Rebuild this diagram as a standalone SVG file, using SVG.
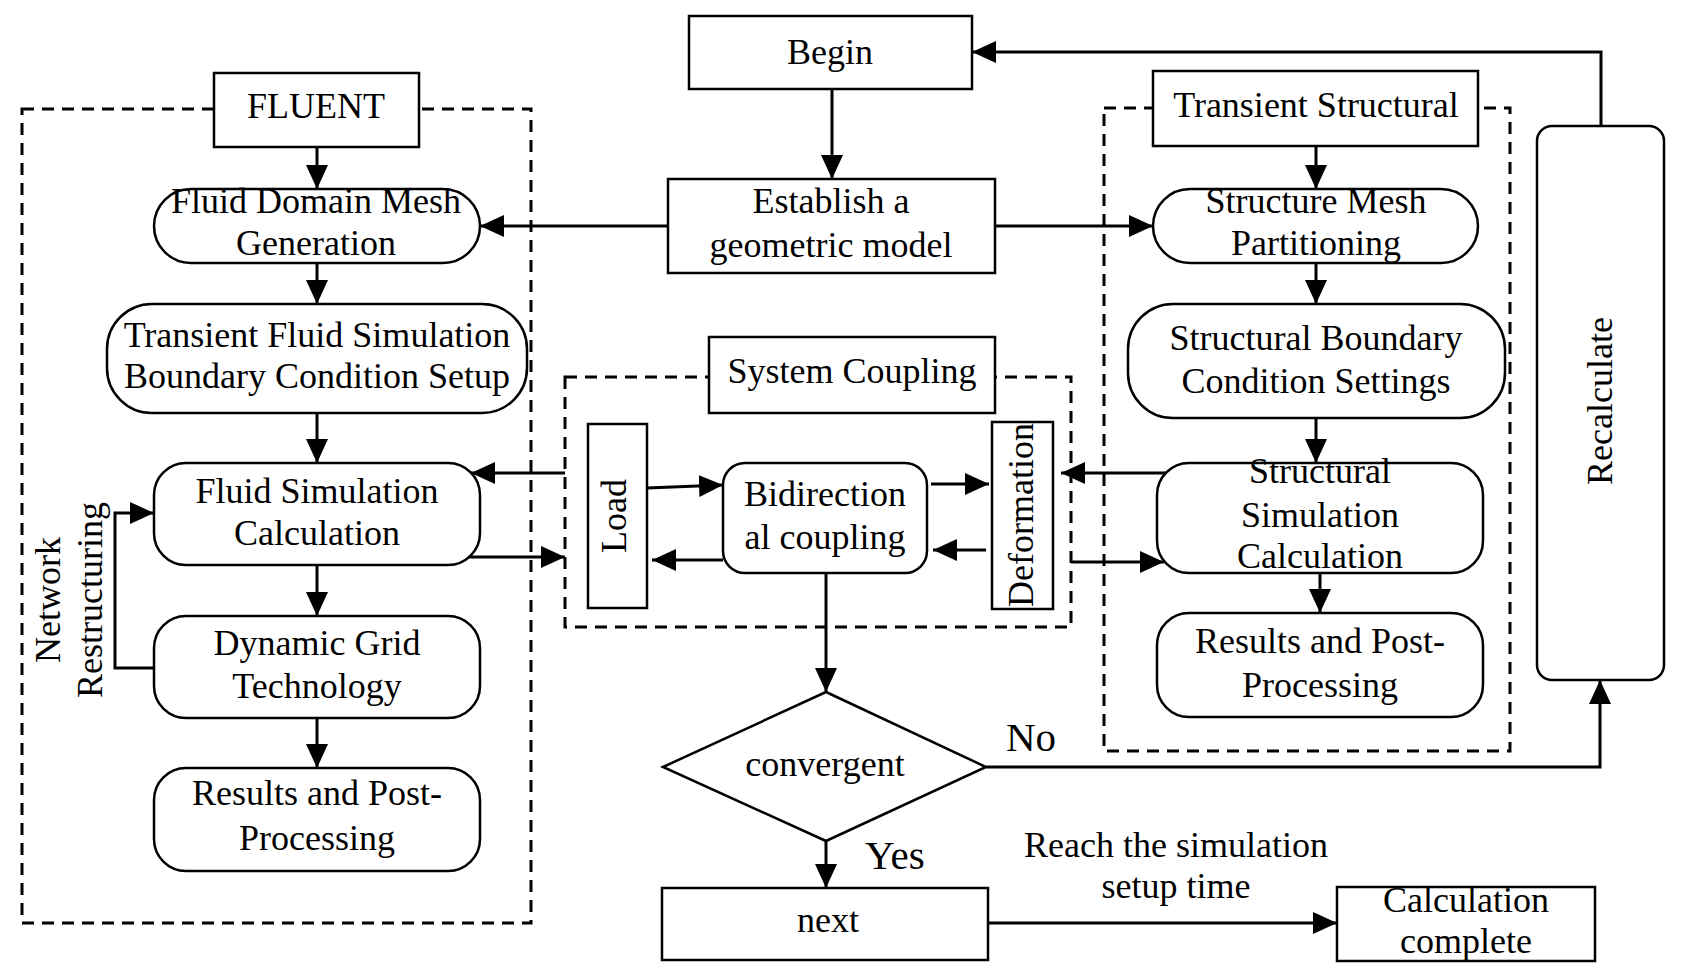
<svg xmlns="http://www.w3.org/2000/svg" width="1682" height="975" viewBox="0 0 1682 975">
<style>
.box{fill:#fff;stroke:#000;stroke-width:2.5}
.dash{fill:none;stroke:#000;stroke-width:3;stroke-dasharray:12 8}
.ln{fill:none;stroke:#000;stroke-width:3}
.ar{fill:none;stroke:#000;stroke-width:3;marker-end:url(#ah)}
text{font-family:"Liberation Serif","Times New Roman",serif;font-size:36px;fill:#000;text-anchor:middle}
.st{text-anchor:start;font-size:41px}
</style>
<defs>
<marker id="ah" markerUnits="userSpaceOnUse" markerWidth="24" markerHeight="22" refX="24" refY="11" orient="auto">
<path d="M0,0 L24,11 L0,22 z" fill="#000"/>
</marker>
</defs>
<rect width="1682" height="975" fill="#fff"/>
<g id="containers">
<rect class="dash" x="22" y="109" width="509" height="814"/>
<rect class="dash" x="565" y="377" width="506" height="250"/>
<rect class="dash" x="1104" y="108" width="406" height="643"/>
</g>
<g id="connectors">
<path class="ar" d="M832,89 V179"/>
<path class="ar" d="M668,226 H480"/>
<path class="ar" d="M995,226 H1153"/>
<path class="ar" d="M317,147 V189"/>
<path class="ar" d="M317,263 V304"/>
<path class="ar" d="M317,413 V463"/>
<path class="ar" d="M317,565 V616"/>
<path class="ar" d="M317,718 V768"/>
<path class="ar" d="M154,668 H115 V513 H154"/>
<path class="ar" d="M565,473 H471"/>
<path class="ar" d="M469,557 H565"/>
<path class="ar" d="M647,488 L723,485"/>
<path class="ar" d="M723,560 H652"/>
<path class="ar" d="M931,484 H989"/>
<path class="ar" d="M986,550 H933"/>
<path class="ar" d="M1166,473 H1061"/>
<path class="ar" d="M1071,562 H1164"/>
<path class="ar" d="M1316,146 V189"/>
<path class="ar" d="M1316,263 V304"/>
<path class="ar" d="M1316,418 V463"/>
<path class="ar" d="M1320,573 V613"/>
<path class="ar" d="M826,573 V692"/>
<path class="ar" d="M826,841 V888"/>
<path class="ar" d="M986,767 H1600 V680"/>
<path class="ar" d="M1601,126 V52 H972"/>
<path class="ar" d="M988,923 H1337"/>
</g>
<g id="begin"><rect class="box" x="689" y="16" width="283" height="73"/><text x="830" y="64">Begin</text></g>
<g id="establish"><rect class="box" x="668" y="179" width="327" height="94"/><text x="831" y="213">Establish a</text><text x="831" y="257">geometric model</text></g>
<g id="fluent"><rect class="box" x="214" y="73" width="205" height="74"/><text x="316" y="118">FLUENT</text></g>
<g id="fluid-mesh"><rect class="box" x="154" y="189" width="326" height="74" rx="37"/><text x="316" y="213">Fluid Domain Mesh</text><text x="316" y="255">Generation</text></g>
<g id="fluid-bc"><rect class="box" x="107" y="304" width="420" height="109" rx="45"/><text x="317" y="347">Transient Fluid Simulation</text><text x="317" y="388">Boundary Condition Setup</text></g>
<g id="fluid-calc"><rect class="box" x="154" y="463" width="326" height="102" rx="32"/><text x="317" y="503">Fluid Simulation</text><text x="317" y="545">Calculation</text></g>
<g id="dynamic-grid"><rect class="box" x="154" y="616" width="326" height="102" rx="32"/><text x="317" y="655">Dynamic Grid</text><text x="317" y="698">Technology</text></g>
<g id="fluid-results"><rect class="box" x="154" y="768" width="326" height="103" rx="32"/><text x="317" y="805">Results and Post-</text><text x="317" y="850">Processing</text></g>
<g id="network-label"><text transform="translate(60,600) rotate(-90)">Network</text><text transform="translate(102,600) rotate(-90)">Restructuring</text></g>
<g id="system-coupling"><rect class="box" x="709" y="337" width="286" height="76"/><text x="852" y="383">System Coupling</text></g>
<g id="load"><rect class="box" x="588" y="424" width="59" height="184"/><text transform="translate(626,516) rotate(-90)">Load</text></g>
<g id="deformation"><rect class="box" x="992" y="422" width="61" height="187"/><text transform="translate(1033,515) rotate(-90)">Deformation</text></g>
<g id="bidirectional"><rect class="box" x="723" y="463" width="204" height="110" rx="22"/><text x="825" y="506">Bidirection</text><text x="825" y="549">al coupling</text></g>
<g id="convergent"><path class="box" d="M663,767 L826,692 L986,767 L826,841 Z"/><text x="825" y="776">convergent</text></g>
<g id="next"><rect class="box" x="662" y="888" width="326" height="72"/><text x="828" y="932">next</text></g>
<g id="transient-structural"><rect class="box" x="1153" y="71" width="325" height="75"/><text x="1316" y="117">Transient Structural</text></g>
<g id="structure-mesh"><rect class="box" x="1153" y="189" width="325" height="74" rx="37"/><text x="1316" y="213">Structure Mesh</text><text x="1316" y="255">Partitioning</text></g>
<g id="structure-bc"><rect class="box" x="1128" y="304" width="377" height="114" rx="45"/><text x="1316" y="350">Structural Boundary</text><text x="1316" y="393">Condition Settings</text></g>
<g id="structure-calc"><rect class="box" x="1157" y="463" width="326" height="110" rx="32"/><text x="1320" y="483">Structural</text><text x="1320" y="527">Simulation</text><text x="1320" y="568">Calculation</text></g>
<g id="structure-results"><rect class="box" x="1157" y="613" width="326" height="104" rx="32"/><text x="1320" y="653">Results and Post-</text><text x="1320" y="697">Processing</text></g>
<g id="recalculate"><rect class="box" x="1537" y="126" width="127" height="554" rx="15"/><text transform="translate(1612,401) rotate(-90)">Recalculate</text></g>
<g id="calc-complete"><rect class="box" x="1337" y="887" width="258" height="74"/><text x="1466" y="912">Calculation</text><text x="1466" y="953">complete</text></g>
<g id="labels">
<text class="st" x="1006" y="751">No</text>
<text class="st" x="865" y="869">Yes</text>
<text x="1176" y="857">Reach the simulation</text>
<text x="1176" y="898">setup time</text>
</g>
</svg>
